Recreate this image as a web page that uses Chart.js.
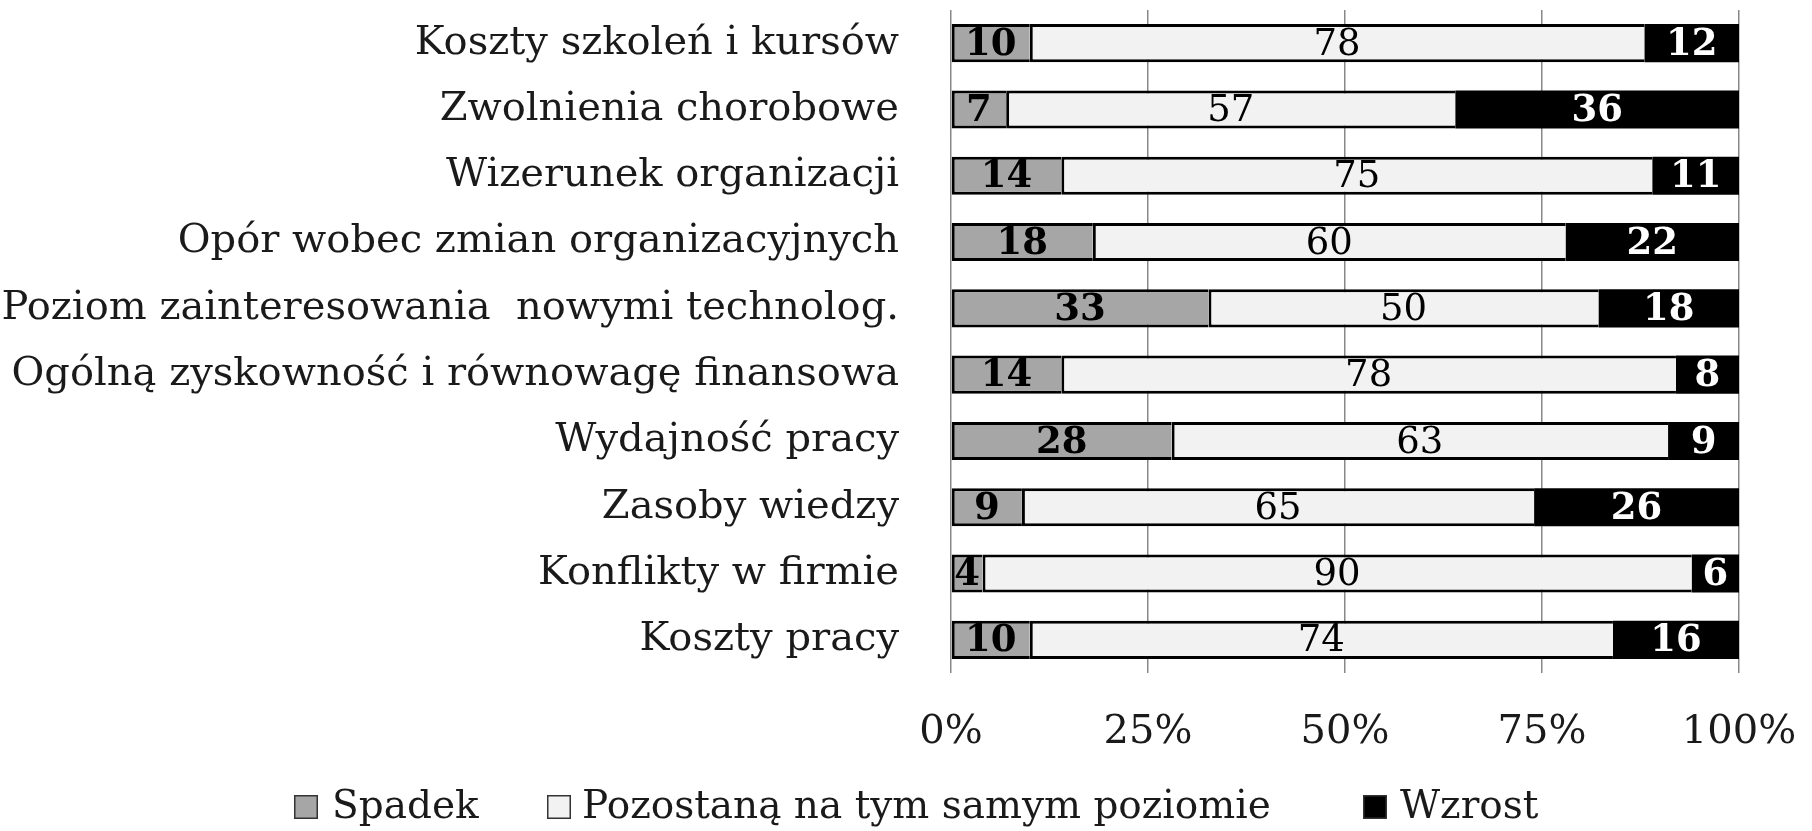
<!DOCTYPE html>
<html>
<head>
<meta charset="utf-8">
<script src="https://cdn.jsdelivr.net/npm/chart.js@4/dist/chart.umd.min.js"></script>
<style>
  html, body { margin: 0; padding: 0; background: #fff; }
  #wrap { width: 1812px; height: 831px; position: relative; }
</style>
</head>
<body>
<div id="wrap"><canvas id="c" width="1812" height="831"></canvas></div>
<script>
const categories = [
  'Koszty szkoleń i kursów',
  'Zwolnienia chorobowe',
  'Wizerunek organizacji',
  'Opór wobec zmian organizacyjnych',
  'Poziom zainteresowania  nowymi technolog.',
  'Ogólną zyskowność i równowagę finansowa',
  'Wydajność pracy',
  'Zasoby wiedzy',
  'Konflikty w firmie',
  'Koszty pracy'
];
const spadek    = [10, 7, 14, 18, 33, 14, 28, 9, 4, 10];
const pozostana = [78, 57, 75, 60, 50, 78, 63, 65, 90, 74];
const wzrost    = [12, 36, 11, 22, 18, 8, 9, 26, 6, 16];
const seriesNames = ['Spadek', 'Pozostaną na tym samym poziomie', 'Wzrost'];
const xTickLabels = ['0%', '25%', '50%', '75%', '100%'];

const FONT = "'DejaVu Serif', 'Liberation Serif', serif";
const raw = [spadek, pozostana, wzrost];
const totals = categories.map((_, i) => spadek[i] + pozostana[i] + wzrost[i]);
const share = arr => arr.map((v, i) => v / totals[i] * 100);

const fills = ['#a6a6a6', '#f2f2f2', '#000000'];
const labelStyles = [
  { weight: 'bold', color: '#000' },
  { weight: 'normal', color: '#000' },
  { weight: 'bold', color: '#fff' }
];

const valueLabels = {
  id: 'valueLabels',
  afterDatasetsDraw(chart) {
    const ctx = chart.ctx;
    ctx.save();
    ctx.textAlign = 'center';
    ctx.textBaseline = 'middle';
    chart.data.datasets.forEach((ds, di) => {
      const meta = chart.getDatasetMeta(di);
      const st = labelStyles[di];
      ctx.font = st.weight + ' 37px ' + FONT;
      ctx.fillStyle = st.color;
      meta.data.forEach((bar, j) => {
        const p = bar.getCenterPoint();
        ctx.fillText(String(raw[di][j]), p.x, p.y + 2);
      });
    });
    ctx.restore();
  }
};

const legendPos = [
  { box: 294, text: 332 },
  { box: 547, text: 582 },
  { box: 1363, text: 1400 }
];
const customLegend = {
  id: 'customLegend',
  afterDraw(chart) {
    const ctx = chart.ctx;
    const cy = 807, bs = 24;
    ctx.save();
    ctx.font = '39px ' + FONT;
    ctx.textBaseline = 'middle';
    ctx.textAlign = 'left';
    chart.data.datasets.forEach((ds, i) => {
      const lp = legendPos[i];
      ctx.fillStyle = ds.backgroundColor;
      ctx.fillRect(lp.box, cy - bs / 2, bs, bs);
      ctx.lineWidth = 1.5;
      ctx.strokeStyle = '#333';
      ctx.strokeRect(lp.box + 0.75, cy - bs / 2 + 0.75, bs - 1.5, bs - 1.5);
      ctx.fillStyle = '#1a1a1a';
      ctx.fillText(ds.label, lp.text, cy + 1);
    });
    ctx.restore();
  }
};

const datasets = [share(spadek), share(pozostana), share(wzrost)].map((d, i) => ({
  label: seriesNames[i],
  data: d,
  backgroundColor: fills[i],
  borderColor: '#000',
  borderWidth: i === 2 ? 0 : { top: 3, bottom: 3, left: 3, right: 0 },
  borderSkipped: false,
  barPercentage: 0.575,
  categoryPercentage: 1.0
}));

new Chart(document.getElementById('c'), {
  type: 'bar',
  data: { labels: categories, datasets },
  options: {
    indexAxis: 'y',
    responsive: false,
    animation: false,
    devicePixelRatio: 1,
    layout: { padding: { top: 10, right: 73, bottom: 0, left: 0 } },
    plugins: {
      legend: { display: false },
      tooltip: { enabled: false }
    },
    scales: {
      x: {
        stacked: true,
        min: 0, max: 100,
        ticks: {
          stepSize: 25,
          padding: 36,
          color: '#1a1a1a',
          font: { family: FONT, size: 40 },
          callback: (v, i) => xTickLabels[i]
        },
        grid: { color: '#888888', lineWidth: 1.5, drawTicks: false },
        border: { display: false },
        afterFit: s => {
          s.height = 158;
          s.paddingLeft = 0; s.paddingRight = 0;
        }
      },
      y: {
        stacked: true,
        ticks: {
          padding: 44,
          color: '#1a1a1a',
          font: { family: FONT, size: 40 }
        },
        grid: { display: false },
        border: { display: false },
        afterFit: s => {
          s.width = 951;
          s.paddingTop = 0; s.paddingBottom = 0;
        }
      }
    }
  },
  plugins: [valueLabels, customLegend]
});
</script>
</body>
</html>
